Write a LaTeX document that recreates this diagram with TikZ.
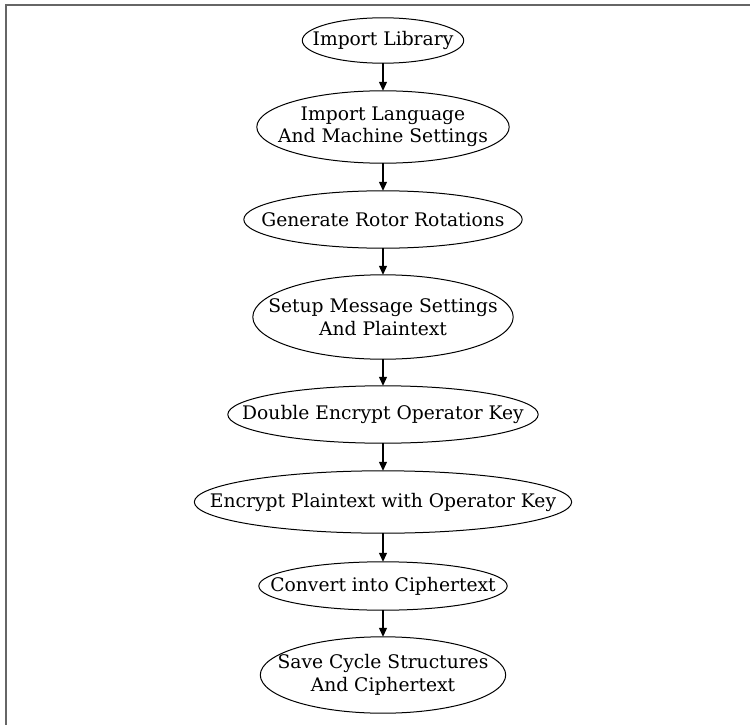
\documentclass[tikz,border=0pt]{standalone}
\usepackage{fontspec}
\setmainfont{DejaVu Serif}
\usetikzlibrary{arrows.meta,calc}
\begin{document}
\begin{tikzpicture}[x=1pt,y=-1pt,
  stepnode/.style={rectangle,inner sep=0pt,align=center,
    font=\fontsize{18.7}{22.4}\selectfont},
  outline/.style={line width=1pt},
  flow/.style={line width=1.2pt,-{Triangle[length=9pt,width=8pt]}},
  frame/.style={draw=black!60,line width=2pt}]
\useasboundingbox (0,0) rectangle (750,725);
\draw[frame] (5.5,726) -- (5.5,5) -- (751,5);
\node[stepnode,minimum width=161pt,minimum height=45pt] (n1) at (383,40.5) {Import Library};
\node[stepnode,minimum width=252pt,minimum height=72pt] (n2) at (383,127) {Import Language\\And Machine Settings};
\node[stepnode,minimum width=278pt,minimum height=57pt] (n3) at (383,219.5) {Generate Rotor Rotations};
\node[stepnode,minimum width=260pt,minimum height=84pt] (n4) at (383,317) {Setup Message Settings\\And Plaintext};
\node[stepnode,minimum width=310pt,minimum height=57pt] (n5) at (383,414.5) {Double Encrypt Operator Key};
\node[stepnode,minimum width=377pt,minimum height=62pt] (n6) at (383,502) {Encrypt Plaintext with Operator Key};
\node[stepnode,minimum width=248pt,minimum height=48pt] (n7) at (383,586) {Convert into Ciphertext};
\node[stepnode,minimum width=245pt,minimum height=76pt] (n8) at (383,675) {Save Cycle Structures\\And Ciphertext};
\foreach \k in {n1,n2,n3,n4,n5,n6,n7,n8}
  \draw[outline] let \p1=(\k.north east), \p2=(\k.center) in
    (\k.center) ellipse [x radius={\x1-\x2}, y radius={\y1-\y2}];
\foreach \a/\b in {n1/n2,n2/n3,n3/n4,n4/n5,n5/n6,n6/n7,n7/n8}
  \draw[flow] (\a.south) -- (\b.north);
\end{tikzpicture}
\end{document}
